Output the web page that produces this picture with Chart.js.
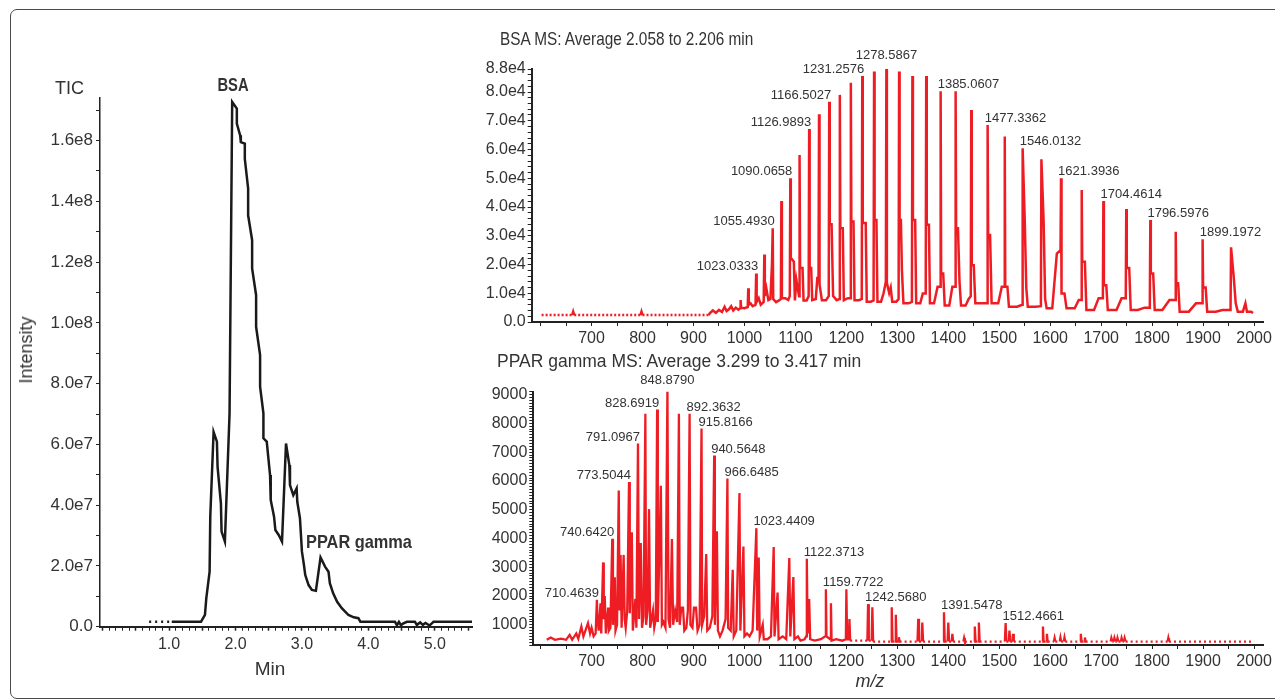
<!DOCTYPE html>
<html>
<head>
<meta charset="utf-8">
<script src="https://cdn.jsdelivr.net/npm/chart.js@4.4.0/dist/chart.umd.min.js"></script>
<style>
  body { margin: 0; background: #fff; width: 1275px; height: 700px; overflow: hidden; position: relative;
         font-family: 'Liberation Sans', Arial, sans-serif; color: #333; }
  .frame { position: absolute; left: 10px; top: 9px; width: 1290px; height: 690px; border: 1.5px solid #4a4a4a;
           border-radius: 7px; box-sizing: border-box; }
  canvas { position: absolute; }
  .t { position: absolute; white-space: nowrap; line-height: 1; transform: translate(-50%, -50%); }
  .l { position: absolute; white-space: nowrap; line-height: 1; transform-origin: 0 50%; }
</style>
</head>
<body>
<div class="frame"></div>
<canvas id="tic" width="480" height="700" style="left:0;top:0"></canvas>
<canvas id="bsa" width="805" height="345" style="left:470px;top:0"></canvas>
<canvas id="ppar" width="805" height="355" style="left:470px;top:345px"></canvas>

<div class="l" style="left:55px;top:88px;font-size:18px;transform:translateY(-50%)">TIC</div>
<div class="t" style="left:26px;top:350px;font-size:18px;transform:translate(-50%,-50%) rotate(-90deg)">Intensity</div>
<div class="t" style="left:270px;top:668px;font-size:19px">Min</div>
<div class="t" style="left:233px;top:85px;font-size:18px;font-weight:bold;transform:translate(-50%,-50%) scaleX(0.82)">BSA</div>
<div class="l" style="left:306px;top:541px;font-size:19px;font-weight:bold;transform:translateY(-50%) scaleX(0.86)">PPAR gamma</div>
<div class="l" style="left:500px;top:39px;font-size:18.5px;transform:translateY(-50%) scaleX(0.83)">BSA MS: Average 2.058 to 2.206 min</div>
<div class="l" style="left:497px;top:362px;font-size:17.5px;transform:translateY(-50%)">PPAR gamma MS: Average 3.299 to 3.417 min</div>
<div class="t" style="left:870px;top:681px;font-size:18px;font-style:italic">m/z</div>

<script>
// TIC chromatogram (min, intensity)
const ticTime = [0.70, 1.04, 1.48, 1.54, 1.56, 1.61, 1.62, 1.67, 1.72, 1.73, 1.78, 1.79, 1.84, 1.91, 1.95,
  2.02, 2.02, 2.07, 2.08, 2.14, 2.14, 2.19, 2.19, 2.25, 2.25, 2.31, 2.31, 2.37, 2.37, 2.42, 2.42, 2.47,
  2.52, 2.53, 2.58, 2.60, 2.65, 2.70, 2.76, 2.81, 2.82, 2.87, 2.92, 2.93, 2.97, 3.00, 3.03, 3.05, 3.10,
  3.15, 3.21, 3.28, 3.35, 3.40, 3.42, 3.47, 3.53, 3.60, 3.70, 3.78, 3.85, 3.88, 4.40, 4.43, 4.46, 4.49,
  4.52, 4.58, 4.70, 4.73, 4.78, 4.82, 4.86, 4.92, 4.96, 4.98, 5.56];
const ticIntensity = [1.6e6, 1.6e6, 1.6e6, 3.9e6, 9.3e6, 1.81e7, 3.62e7, 6.41e7, 6.09e7, 5.26e7, 4.06e7, 3.13e7, 2.80e7, 7.0e7, 1.727e8,
  1.705e8, 1.656e8, 1.617e8, 1.595e8, 1.59e8, 1.54e8, 1.442e8, 1.354e8, 1.272e8, 1.179e8, 1.091e8, 9.87e7, 8.94e7, 7.9e7, 7.02e7, 6.2e7, 6.09e7,
  4.99e7, 4.17e7, 3.62e7, 3.18e7, 3.02e7, 2.80e7, 6.03e7, 5.32e7, 4.66e7, 4.33e7, 4.55e7, 4.11e7, 3.57e7, 2.47e7, 2.03e7, 1.70e7, 1.37e7,
  1.21e7, 1.18e7, 2.28e7, 1.97e7, 1.81e7, 1.43e7, 1.10e7, 8.2e6, 6.1e6, 3.85e6, 3.1e6, 2.8e6, 1.6e6, 1.6e6, 5e5, 1.6e6, 5e5,
  1.0e6, 1.6e6, 1.6e6, 6e5, 1.4e6, 6e5, 1.2e6, 4e5, 1.2e6, 1.6e6, 1.6e6];
const ticXLabels = [1, 2, 3, 4, 5];
const ticYLabels = [0, 2e7, 4e7, 6e7, 8e7, 1e8, 1.2e8, 1.4e8, 1.6e8];

// BSA mass spectrum (m/z, intensity)
const bsaMz = [602, 662, 664, 666, 796, 798, 800, 930, 932, 938, 944, 950, 956, 961, 965, 970, 974, 978, 983, 988,
  991.5, 992.5, 993.5, 1000, 1006.5, 1007.5, 1008.5, 1012, 1016, 1021.8, 1023, 1024, 1028, 1032, 1037.8, 1039, 1040, 1043, 1047,
  1051, 1054, 1055.5, 1056.5, 1062, 1068, 1071.5, 1072.5, 1073.5, 1080, 1086, 1089, 1090, 1091, 1097, 1099, 1102, 1107.2, 1108.2,
  1109.2, 1114, 1116, 1122, 1126, 1127, 1128, 1131, 1133, 1140, 1143, 1145.4, 1146.4, 1147.4, 1152, 1160, 1165.4, 1166.4, 1167.4,
  1171, 1174, 1181, 1186.2, 1187.2, 1188.2, 1193, 1195, 1203, 1207.8, 1208.8, 1209.8, 1214, 1216, 1225, 1230.2, 1231.2, 1232.2,
  1238, 1240, 1248, 1253.4, 1254.4, 1255.4, 1259, 1261, 1268, 1273, 1277.5, 1278.5, 1279.5, 1284, 1287, 1290, 1298, 1302.5, 1303.5,
  1304.5, 1307, 1309, 1312, 1322, 1328.6, 1329.6, 1330.6, 1335, 1337, 1345, 1350, 1355.7, 1356.7, 1357.7, 1362, 1364, 1372, 1379,
  1384, 1385, 1386, 1390, 1393, 1402, 1408, 1413.4, 1414.4, 1415.4, 1419, 1422, 1425, 1434, 1440, 1444.1, 1445.1, 1446.1, 1450,
  1453, 1466, 1476.2, 1477.2, 1478.2, 1482, 1485, 1498, 1505, 1509.8, 1510.8, 1511.8, 1516, 1519, 1535, 1544.9, 1545.9, 1550, 1553,
  1556, 1571, 1581.7, 1582.7, 1587, 1590, 1593, 1604, 1613, 1620.2, 1621.2, 1622.2, 1628, 1632, 1648, 1656, 1660.8, 1661.8, 1662.8,
  1668, 1671, 1686, 1695, 1703.3, 1704.3, 1705.3, 1710, 1713, 1730, 1740, 1748.2, 1749.2, 1750.2, 1755, 1758, 1772, 1785, 1795.4,
  1796.4, 1797.4, 1802, 1805, 1820, 1834, 1845.3, 1846.3, 1847.3, 1851, 1854, 1872, 1886, 1898, 1899, 1900, 1905, 1908, 1925, 1938,
  1953.8, 1954.8, 1960, 1964, 1968, 1978, 1983, 1986, 1994, 1998];
const bsaInt = [2400, 2400, 3600, 2400, 2400, 3600, 2400, 2400, 3000, 4000, 3200, 4200, 3500, 5300, 3800, 4500, 5500, 4000, 5000, 4300,
  4800, 7650, 5000, 4800, 5200, 11700, 6000, 6500, 5500, 6000, 16900, 7000, 8300, 6000, 7000, 23500, 9000, 11700, 7600,
  8000, 20000, 32600, 8000, 6900, 7500, 8000, 42100, 8300, 8300, 7700, 9000, 50000, 22300, 21000, 7500, 14600, 9000, 58100,
  18800, 18800, 7500, 7500, 9000, 67100, 18800, 18800, 7600, 8000, 15300, 15300, 72300, 13000, 7600, 7600, 9000, 76600, 34000,
  34000, 9000, 7600, 8000, 79000, 32600, 32600, 7600, 8300, 8300, 83200, 35000, 35000, 7600, 7600, 8000, 85600, 34400,
  34400, 7070, 7070, 7500, 87100, 35500, 35500, 7070, 7070, 10000, 14000, 88200, 13600, 10100, 12000, 7070, 7070, 8000, 87100,
  35500, 35500, 18100, 6500, 6500, 7000, 85600, 35500, 35500, 6500, 6500, 9900, 9900, 85600, 33800, 33800, 6500, 6500, 12300,
  12300, 80300, 16900, 16900, 5700, 5700, 12300, 12300, 80300, 32600, 32600, 14000, 5700, 5700, 8000, 9000, 73700, 19700, 19700,
  6500, 6500, 6500, 68500, 30300, 30300, 6500, 6500, 12300, 12300, 64500, 12300, 12300, 5300, 5300, 6000, 60400, 35500, 12000,
  5300, 5300, 5500, 56600, 35500, 8000, 4750, 4750, 23800, 25000, 50000, 9900, 9900, 4750, 4750, 7650, 7650, 45900, 21000,
  21000, 4170, 4170, 8300, 8300, 42100, 12800, 12800, 4170, 4170, 8300, 8300, 39300, 18800, 18800, 4170, 4170, 5000, 5000,
  35500, 16900, 16900, 4170, 4170, 7650, 7650, 31400, 13500, 13500, 3600, 3600, 6500, 6500, 28800, 12000, 12000, 3600, 3600, 4170,
  4170, 26000, 15800, 6500, 3600, 3600, 6500, 3600, 3600, 3100];
const bsaPeakLabels = ['1023.0333', '1055.4930', '1090.0658', '1126.9893', '1166.5027', '1231.2576', '1278.5867',
  '1385.0607', '1477.3362', '1546.0132', '1621.3936', '1704.4614', '1796.5976', '1899.1972'];
const bsaYLabels = [0, 10000, 20000, 30000, 40000, 50000, 60000, 70000, 80000, 88000];

// PPAR gamma mass spectrum (m/z, intensity)
const pparMz = [612, 620, 628, 640, 650, 657, 662, 670, 674, 680, 684, 693, 697, 700, 704, 708, 710.5, 711.5, 714, 717.6, 719,
  722.7, 724, 725.9, 728, 732.6, 734, 737, 740.6, 742, 745.6, 747, 750, 753.4, 755, 757, 759, 763, 765, 767, 770, 773.5, 775,
  779, 781, 786, 788, 791.1, 793, 796.5, 799, 802, 805.6, 807, 810, 812.8, 815, 820.6, 823, 826, 828.7, 830, 836, 838, 841, 845,
  848.9, 851, 854, 857.7, 860, 864, 868, 871.4, 873, 876, 879.5, 882, 886, 889, 892.4, 894, 898, 901, 905, 908, 912, 915.8, 917,
  921, 925, 927, 932, 937, 940.6, 942, 945.9, 948, 952, 957, 963, 966.6, 968, 973, 977, 979, 984, 990.2, 992, 998, 1000, 1005,
  1010, 1016, 1023.4, 1025, 1028, 1030, 1035.9, 1038, 1045, 1052, 1057.4, 1059, 1065, 1067, 1075, 1082, 1088, 1090, 1096, 1098,
  1105, 1110, 1118, 1121, 1122.4, 1124, 1127, 1129, 1138, 1150, 1158.5, 1159.8, 1161, 1168.5, 1169.7, 1171, 1180, 1192, 1199,
  1200, 1201.5, 1205, 1206, 1207.5, 1215, 1228, 1241.2, 1242.6, 1244, 1249.6, 1251, 1252.5, 1270, 1287.6, 1289, 1290.5, 1295.6,
  1297, 1298.5, 1301.6, 1303, 1304.5, 1330, 1339.6, 1341, 1342.5, 1347.6, 1349, 1350.5, 1375, 1390, 1391.5, 1393, 1398.6, 1400,
  1401.5, 1406.6, 1408, 1409.5, 1429.6, 1431, 1432.5, 1450.6, 1452, 1453.5, 1458.6, 1460, 1461.5, 1490, 1511, 1512.5, 1514,
  1518.6, 1520, 1521.5, 1525.6, 1527, 1528.5, 1570, 1584.3, 1585.7, 1587, 1592.1, 1593.5, 1595, 1607.2, 1608.6, 1610, 1618.6,
  1620, 1621.5, 1626.6, 1628, 1629.5, 1658.6, 1660, 1661.5, 1666.6, 1668, 1669.5, 1718.6, 1720, 1722, 1724.6, 1726, 1728, 1730.6,
  1732, 1734, 1738.6, 1740, 1742, 1744.6, 1746, 1748, 1830.3, 1831.7, 1833, 2000];
const pparInt = [480, 560, 480, 520, 480, 650, 480, 700, 520, 940, 600, 1060, 700, 900, 600, 700, 1870, 1290, 800, 1750, 700,
  3170, 1200, 2000, 700, 1600, 800, 900, 3990, 1000, 2650, 800, 1000, 5670, 1500, 3430, 900, 3430, 1200, 900, 1500, 5960, 1400,
  4220, 800, 1900, 900, 7300, 1200, 3840, 900, 1300, 8330, 1000, 1500, 5020, 900, 1500, 900, 1200, 8480, 1100, 5830, 1000, 1100, 900,
  9270, 1200, 900, 3980, 1000, 1500, 1100, 8330, 1000, 1600, 1600, 800, 900, 1500, 8330, 1000, 900, 1600, 1600, 800, 1000, 7820, 1000,
  1300, 3460, 800, 900, 1300, 6880, 1000, 4250, 800, 600, 800, 1200, 6080, 900, 800, 2910, 600, 800, 5580, 800, 3720, 600, 700,
  600, 800, 4360, 800, 3340, 600, 1000, 500, 500, 600, 3700, 600, 2120, 500, 600, 500, 3320, 600, 2660, 500,
  600, 450, 500, 600, 3300, 700, 1900, 500, 450, 500, 600, 2240, 600, 500, 1750, 450, 500, 450, 500,
  2240, 500, 500, 1200, 450, 450, 450, 450, 1720, 450, 450, 1610, 420, 420, 420, 1610, 420, 420,
  1350, 420, 420, 570, 420, 420, 420, 1210, 420, 420, 1080, 420, 420, 420, 1440, 420, 420, 1080,
  420, 420, 690, 420, 420, 540, 420, 420, 940, 420, 420, 1080, 420, 420, 420, 1060, 420,
  420, 800, 420, 420, 690, 420, 420, 420, 940, 420, 420, 690, 420, 420, 540, 420, 420,
  560, 420, 420, 560, 420, 420, 690, 420, 420, 560, 420, 420, 540, 420, 420, 540, 420, 420,
  540, 420, 420, 540, 420, 420, 540, 420, 420, 540, 420, 420];
const pparPeakLabels = ['710.4639', '740.6420', '773.5044', '791.0967', '828.6919', '848.8790', '892.3632', '915.8166',
  '940.5648', '966.6485', '1023.4409', '1122.3713', '1159.7722', '1242.5680', '1391.5478', '1512.4661'];
const pparYLabels = [1000, 2000, 3000, 4000, 5000, 6000, 7000, 8000, 9000];

const msXLabels = [700, 800, 900, 1000, 1100, 1200, 1300, 1400, 1500, 1600, 1700, 1800, 1900, 2000];

const RED = '#ee1d24';
const INK = '#333';
const AXIS = '#222';

function points(xs, ys) {
  return xs.map((x, i) => ({ x: x, y: ys[i] }));
}

function tickList(from, to, step) {
  const out = [];
  for (let v = from; v <= to + step / 10; v += step) out.push({ value: Math.round(v * 1000) / 1000 });
  return out;
}

// peak annotations drawn at the data peak nearest to the labelled m/z
const peakLabels = {
  id: 'peakLabels',
  afterDatasetsDraw(chart, args, opts) {
    if (!opts.text) return;
    const { ctx, scales: { x, y } } = chart;
    const pts = chart.data.datasets[0].data;
    const mz = opts.text.map(Number);
    const tops = mz.map(m => {
      let best = 0;
      pts.forEach(p => { if (Math.abs(p.x - m) < 1.5 && p.y > best) best = p.y; });
      return best;
    });
    const apex = tops.indexOf(Math.max(...tops));
    ctx.save();
    ctx.font = '13px "Liberation Sans", Arial, sans-serif';
    ctx.fillStyle = INK;
    ctx.textBaseline = 'alphabetic';
    mz.forEach((m, i) => {
      const px = x.getPixelForValue(m);
      const py = y.getPixelForValue(tops[i]);
      let dx = 0, dy = 3;
      if (i < apex) { ctx.textAlign = 'right'; dx = 2; }
      else if (i > apex) { ctx.textAlign = 'left'; dx = -3; }
      else { ctx.textAlign = 'center'; dy += opts.apexLift || 0; }
      ctx.fillText(opts.text[i], px + dx, py - dy);
    });
    ctx.restore();
  }
};

// TIC
new Chart(document.getElementById('tic').getContext('2d'), {
  type: 'line',
  data: {
    datasets: [{
      data: points(ticTime, ticIntensity),
      borderColor: '#1a1a1a',
      borderWidth: 2.5,
      pointRadius: 0,
      tension: 0,
      segment: { borderDash: c => (c.p1.parsed.x <= 1.04 ? [2, 4] : undefined) }
    }]
  },
  options: {
    responsive: false,
    animation: false,
    events: [],
    layout: { padding: { left: 0, right: 8, top: 98, bottom: 0 } },
    plugins: { legend: { display: false }, tooltip: { enabled: false } },
    scales: {
      x: {
        type: 'linear', min: -0.04, max: 5.56,
        afterBuildTicks: s => { s.ticks = tickList(0, 5.5, 0.1); },
        afterFit: s => { s.height = 73.3; },
        border: { color: AXIS, width: 2 },
        grid: { drawOnChartArea: false, tickLength: 4, color: AXIS, tickWidth: c => (Math.abs(c.tick.value * 2 - Math.round(c.tick.value * 2)) < 1e-6 ? 1.5 : 1) },
        ticks: {
          autoSkip: false, maxRotation: 0, padding: 4, color: INK,
          font: { family: "'Liberation Sans', Arial, sans-serif", size: 16 },
          callback: v => (ticXLabels.some(l => Math.abs(l - v) < 1e-6) ? v.toFixed(1) : '')
        }
      },
      y: {
        min: 0, max: 1.74e8,
        afterBuildTicks: s => { s.ticks = tickList(0, 1.7e8, 1e7); },
        afterFit: s => { s.width = 100; },
        border: { color: AXIS, width: 1.5 },
        grid: { drawOnChartArea: false, tickLength: 4, color: AXIS },
        ticks: {
          autoSkip: false, padding: 3, color: INK,
          font: { family: "'Liberation Sans', Arial, sans-serif", size: 17 },
          callback: v => {
            if (!ticYLabels.some(l => Math.abs(l - v) < 1)) return '';
            return v === 0 ? '0.0' : v.toExponential(1).replace('+', '');
          }
        }
      }
    }
  }
});

function msOptions(cfg) {
  return {
    responsive: false,
    animation: false,
    events: [],
    layout: { padding: { left: 0, right: 10, top: cfg.top, bottom: 0 } },
    plugins: { legend: { display: false }, tooltip: { enabled: false },
      peakLabels: { text: cfg.labels, apexLift: cfg.apexLift } },
    scales: {
      x: {
        type: 'linear', min: cfg.xMin, max: 2017.6,
        afterBuildTicks: s => { s.ticks = tickList(600, 2000, 50); },
        afterFit: s => { s.height = cfg.axisH; },
        border: { color: AXIS, width: 2 },
        grid: { drawOnChartArea: false, tickLength: 4, color: AXIS },
        ticks: {
          autoSkip: false, maxRotation: 0, padding: 3, color: INK,
          font: { family: "'Liberation Sans', Arial, sans-serif", size: 16 },
          callback: v => (msXLabels.includes(v) ? String(v) : '')
        }
      },
      y: {
        min: cfg.yMin, max: cfg.yMax,
        afterBuildTicks: s => { s.ticks = tickList(cfg.yMin, cfg.yMax, cfg.yStep); },
        afterFit: s => { s.width = cfg.yW; },
        border: { color: AXIS, width: 2 },
        grid: { drawOnChartArea: false, tickLength: 4, color: AXIS },
        ticks: {
          autoSkip: false, padding: 2, color: INK,
          font: { family: "'Liberation Sans', Arial, sans-serif", size: 16 },
          callback: v => (cfg.yLabels.includes(v) ? cfg.fmt(v) : '')
        }
      }
    }
  };
}

// BSA MS
new Chart(document.getElementById('bsa').getContext('2d'), {
  type: 'line',
  data: {
    datasets: [{
      data: points(bsaMz, bsaInt),
      borderColor: RED, borderWidth: 2.5, pointRadius: 0, tension: 0,
      segment: { borderDash: c => (c.p0.parsed.y <= 2500 && c.p1.parsed.y <= 2500 ? [2, 2] : undefined) }
    }]
  },
  options: msOptions({ top: 69, axisH: 23, yW: 61.7, xMin: 582.6, yMin: 0, yMax: 88000, yStep: 2000,
    yLabels: bsaYLabels, fmt: v => (v === 0 ? '0.0' : (v / 1e4).toFixed(1) + 'e4'),
    labels: bsaPeakLabels, apexLift: 6 }),
  plugins: [peakLabels]
});

// PPAR gamma MS
new Chart(document.getElementById('ppar').getContext('2d'), {
  type: 'line',
  data: {
    datasets: [{
      data: points(pparMz, pparInt),
      borderColor: RED, borderWidth: 2.3, pointRadius: 0, tension: 0,
      segment: { borderDash: c => (c.p0.parsed.y <= 450 && c.p1.parsed.y <= 450 ? [2, 3] : undefined) }
    }]
  },
  options: msOptions({ top: 46.7, axisH: 55, yW: 63.3, xMin: 585.7, yMin: 300, yMax: 9100, yStep: 100,
    yLabels: pparYLabels, fmt: v => String(v), labels: pparPeakLabels, apexLift: 0 }),
  plugins: [peakLabels]
});
</script>
</body>
</html>
